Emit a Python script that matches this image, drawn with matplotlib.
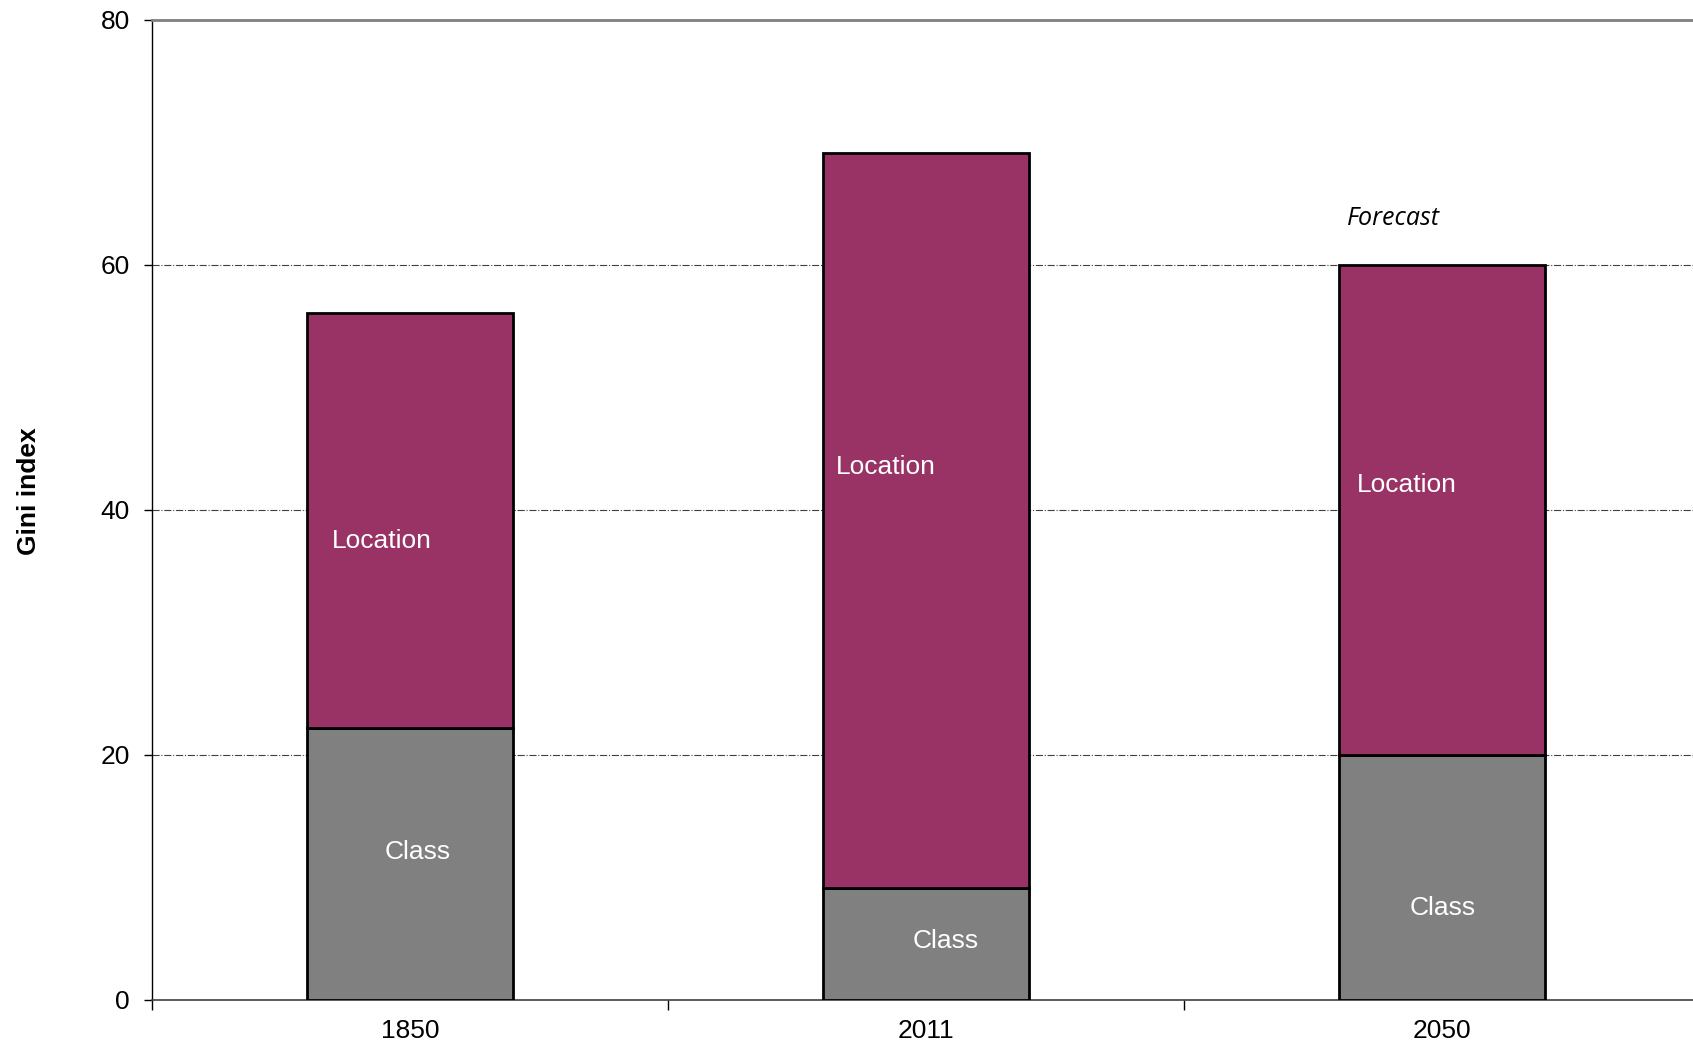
import numpy as np
import matplotlib.pyplot as plt

# data
years = ['1850', '2011', '2050']
class_part = [22.2, 9.1, 20.0]
location_part = [33.9, 60.0, 40.0]
y_ticks = [0, 20, 40, 60, 80]

# label positions inside the bars (x in category units, y in Gini units)
loc_label_pos = [(0.446, 37.5), (1.422, 43.5), (2.432, 42.0)]
class_label_pos = [(0.514, 12.1), (1.537, 4.8), (2.50, 7.5)]

purple = '#993366'
grey = '#808080'

plt.rcParams['font.family'] = ['Liberation Sans', 'DejaVu Sans']

fig = plt.figure(figsize=(16.93, 10.45), dpi=100)
ax = fig.add_axes([0.0898, 0.0431, 0.9145, 0.9378])

x = np.arange(len(years)) + 0.5
ax.bar(x, class_part, width=0.40, color=grey, edgecolor='black', linewidth=2.0, zorder=3)
ax.bar(x, location_part, width=0.40, bottom=class_part, color=purple,
       edgecolor='black', linewidth=2.0, zorder=3)

for (lx, ly) in loc_label_pos:
    ax.text(lx, ly, 'Location', color='white', fontsize=19, ha='center', va='center', zorder=4)
for (cx, cy) in class_label_pos:
    ax.text(cx, cy, 'Class', color='white', fontsize=19, ha='center', va='center', zorder=4)

ax.text(2.405, 63.8, 'Forecast', fontsize=18, style='italic', family=['Open Sans', 'DejaVu Sans'],
        ha='center', va='center')

ax.set_xlim(0, 3)
ax.set_ylim(0, 80)
ax.set_yticks(y_ticks)
ax.set_yticklabels([str(v) for v in y_ticks], fontsize=19)
ax.tick_params(axis='y', direction='out', length=6, width=1, pad=10)

# category boundaries as major ticks, labels on minor ticks
ax.set_xticks([0, 1, 2, 3])
ax.set_xticklabels([])
ax.set_xticks(x, minor=True)
ax.set_xticklabels(years, minor=True, fontsize=19)
ax.tick_params(axis='x', which='major', direction='out', length=7, width=1)
ax.tick_params(axis='x', which='minor', length=0, pad=14)

for v in [20, 40, 60]:
    ax.axhline(v, color='#404040', linestyle='-.', linewidth=0.8, zorder=1)

ax.spines['top'].set_color(grey)
ax.spines['top'].set_linewidth(2)
ax.spines['right'].set_visible(False)
ax.spines['left'].set_color('black')
ax.spines['left'].set_linewidth(1)
ax.spines['bottom'].set_color('#404040')
ax.spines['bottom'].set_linewidth(1.2)

ax.set_ylabel('Gini index', fontsize=19, fontweight='bold')
ax.yaxis.set_label_coords(-0.072, 0.519)

fig.savefig('out.png', dpi=100)
